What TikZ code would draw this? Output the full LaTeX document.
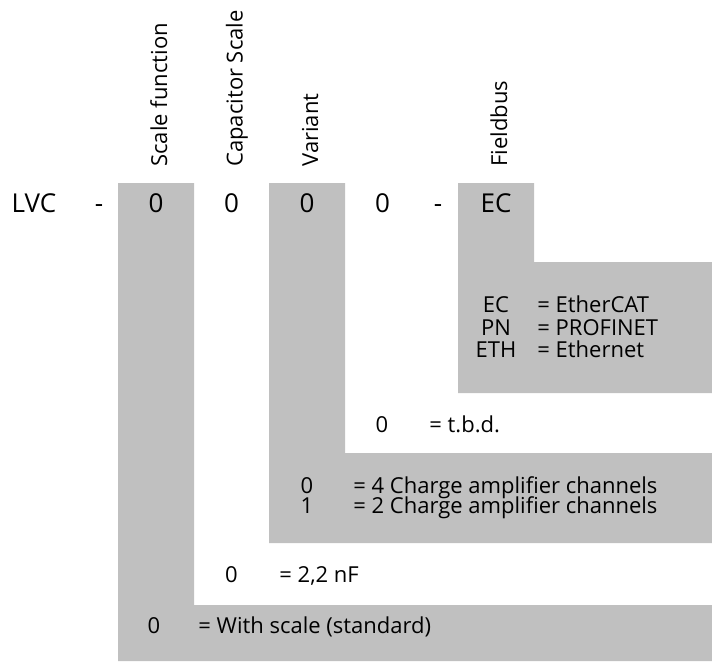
\documentclass[tikz,border=0pt]{standalone}
\usepackage{fontspec}
\setmainfont{Open Sans}
\usepackage{tikz}
\usetikzlibrary{positioning}
\definecolor{keygray}{RGB}{192,192,192}
\tikzset{
  code/.style={anchor=base,inner sep=0pt,font=\fontsize{13}{15}\selectfont},
  field/.style={rotate=90,anchor=base west,inner sep=0pt,
    font=\fontsize{11}{13}\selectfont},
  key/.style={anchor=base,inner sep=0pt,font=\fontsize{11}{13}\selectfont},
  meaning/.style={anchor=base west,inner sep=0pt,
    font=\fontsize{11}{13}\selectfont},
  band/.style={fill=keygray,draw=none}
}

\begin{document}
\begin{tikzpicture}[x=0.5pt,y=-0.5pt]
    \useasboundingbox (0,0) rectangle (712,661);
    \fill[band] (118,183) -- (194,183) -- (194,605) -- (712,605) -- (712,661) -- (118,661) -- cycle;
    \fill[band] (269,183) -- (345,183) -- (345,453) -- (712,453) -- (712,543) -- (269,543) -- cycle;
    \fill[band] (458,183) -- (534,183) -- (534,262) -- (712,262) -- (712,393) -- (458,393) -- cycle;
    \node (lvc) [code] at (34,212) {LVC};
    \node (dasha) [code] at (99,212) {-};
    \node (scale) [code] at (156,212) {0};
    \node (cap) [code] at (231.5,212) {0};
    \node (var) [code] at (307,212) {0};
    \node (spare) [code] at (382.5,212) {0};
    \node (dashb) [code] at (438,212) {-};
    \node (bus) [code] at (496,212) {EC};
    \node (tscale) [field] at (167,167) {Scale function};
    \node (tcap) [field] at (242.5,167) {Capacitor Scale};
    \node (tvar) [field] at (318,167) {Variant};
    \node (tbus) [field] at (507,167) {Fieldbus};
    \node (kec) [key] at (496,312) {EC};
    \node (mec) [meaning] at (537,312) {= EtherCAT};
    \node (kpn) [key] at (496,335) {PN};
    \node (mpn) [meaning] at (537,335) {= PROFINET};
    \node (keth) [key] at (496,357.5) {ETH};
    \node (meth) [meaning] at (537,357.5) {= Ethernet};
    \node (kspare) [key] at (382,432) {0};
    \node (mspare) [meaning] at (429,432) {= t.b.d.};
    \node (kfour) [key] at (307,493.5) {0};
    \node (mfour) [meaning] at (353,493.5) {= 4 Charge amplifier channels};
    \node (ktwo) [key] at (307,513.5) {1};
    \node (mtwo) [meaning] at (353,513.5) {= 2 Charge amplifier channels};
    \node (kcap) [key] at (231.5,582) {0};
    \node (mcap) [meaning] at (279,582) {= 2,2 nF};
    \node (kscale) [key] at (154,633.5) {0};
    \node (mscale) [meaning] at (198,633.5) {= With scale (standard)};
  \end{tikzpicture}
\end{document}
